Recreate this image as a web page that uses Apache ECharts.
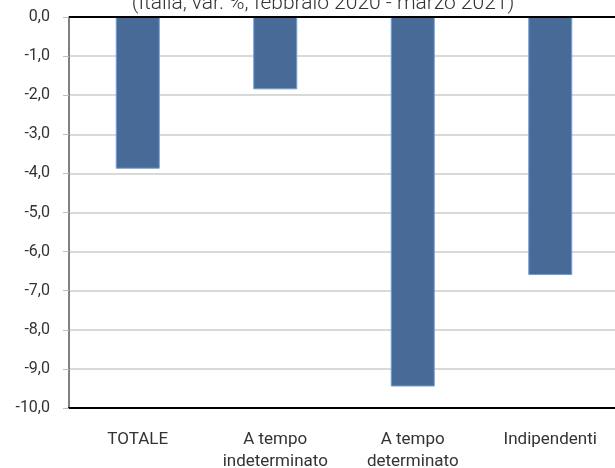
<!DOCTYPE html>
<html>
<head>
<meta charset="utf-8">
<script src="https://cdn.jsdelivr.net/npm/echarts@6/dist/echarts.min.js"></script>
<style>
  html, body { margin: 0; padding: 0; background: #fff; }
  #main { width: 615px; height: 468px; }
</style>
</head>
<body>
<div id="main"></div>
<script>
const categories = ['TOTALE', 'A tempo\nindeterminato', 'A tempo\ndeterminato', 'Indipendenti']
const values = [-3.88, -1.85, -9.45, -6.6]
const titleText = '(Italia, var. %, febbraio 2020 - marzo 2021)'

var myChart = echarts.init(document.getElementById('main'))

let option = {
  animation: false,
  textStyle: { fontFamily: 'Roboto' },
  title: {
    text: titleText,
    left: 318,
    top: -12,
    textAlign: 'center',
    textStyle: {
      fontFamily: 'Roboto',
      fontWeight: 300,
      fontSize: 21,
      color: '#333333',
    },
  },
  grid: {
    left: 69,
    right: -4,
    top: 17,
    bottom: 60,
    containLabel: false,
    outerBoundsMode: 'none',
  },
  xAxis: {
    type: 'category',
    data: categories,
    position: 'bottom',
    axisLine: {
      onZero: false,
      lineStyle: { color: '#000000', width: 2 },
    },
    axisTick: { show: false },
    axisLabel: {
      fontSize: 17,
      color: '#333333',
      margin: 21,
      lineHeight: 22,
      interval: 0,
    },
  },
  yAxis: {
    type: 'value',
    min: -10,
    max: 0,
    interval: 1,
    axisLine: {
      show: true,
      lineStyle: { color: '#808080', width: 2 },
    },
    axisTick: {
      show: true,
      length: 6,
      lineStyle: { color: '#bfbfbf' },
    },
    axisLabel: {
      fontSize: 16,
      color: '#333333',
      margin: 19,
      formatter: (v) => v.toFixed(1).replace('.', ','),
    },
    splitLine: {
      show: true,
      lineStyle: { color: '#d9d9d9', width: 2 },
    },
  },
  series: [
    {
      type: 'bar',
      data: values,
      barWidth: 44,
      itemStyle: {
        color: '#476a97',
        borderColor: '#6f9fd8',
        borderWidth: 1,
      },
      markLine: {
        silent: true,
        symbol: 'none',
        label: { show: false },
        lineStyle: { color: '#000000', width: 2, type: 'solid' },
        data: [{ yAxis: 0 }],
      },
    },
  ],
}
myChart.setOption(option)
</script>
</body>
</html>
